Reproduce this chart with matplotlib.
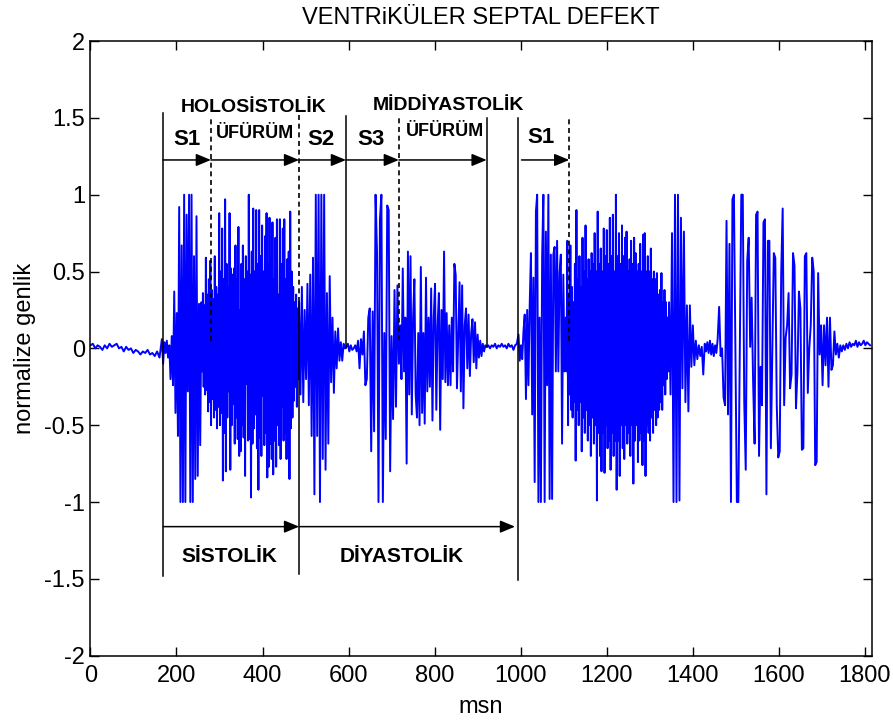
import matplotlib.pyplot as plt
import numpy as np

plt.rcParams['font.family'] = ['Liberation Sans Narrow', 'Liberation Sans', 'DejaVu Sans']

# segment borders (ms); each list below holds the samples
seg_edges = [0, 166, 258, 485, 595, 717, 921, 995, 1105, 1345, 1428, 1458, 1750, 1816]

base0 = [0.02, 0.03, 0.0, 0.02, 0.01, -0.01, 0.02, 0.0, 0.03, 0.01, 0.02, 0.03, 0.0, 0.01,
         -0.02, 0.01, -0.01, 0.0, -0.03, -0.01, -0.02, -0.04, -0.02, -0.03, -0.01, -0.04,
         -0.03, -0.05, -0.02, -0.06]
s1_a = [0.06, -0.1, 0.04, -0.03, 0.05, -0.06, 0.02, -0.2, 0.08, -0.24, 0.37, -0.42, 0.23,
        -0.57, 0.92, -1.0, 0.67, -1.0, 1.0, -1.0, 0.87, -0.28, 1.0, -1.0, 1.0, -1.0, 0.6,
        -0.85, 0.86, -0.83, 0.29, -0.63]
sys_murmur_a = [0.30, -0.15, 0.36, -0.25, 0.28, -0.30, 0.59, -0.27, 0.35, -0.41, 0.45, -0.35,
                0.57, -0.50, 0.38, -0.33, 0.32, -0.45, 0.60, -0.40, 0.40, -0.52, 0.35, -0.38,
                0.88, -0.50, 0.50, -0.42, 0.78, -0.86, 0.45, -0.55, 0.97, -0.80, 0.55, -0.45,
                0.40, -0.28, 0.88, -0.79, 0.52, -0.50, 0.48, -0.36, 0.52, -0.62, 0.67, -0.45,
                0.45, -0.59, 0.79, -0.70, 0.25, -0.67, 0.55, -0.50, 0.67, -0.58, 0.45, -0.83,
                0.60, -0.23, 0.50, -0.60, 1.00, -0.59, 0.48, -0.97, 0.63, -0.62, 0.91, -0.52,
                0.50, -0.43, 0.90, -0.65, 0.55, -0.92, 0.90, -0.58, 0.60, -0.70, 0.80, -0.31,
                0.50, -0.63, 0.73, -0.55, 0.88, -0.84, 0.55, -0.77, 0.85, -0.62, 0.60, -0.72,
                0.82, -0.82, 0.45, -0.60, 0.72, -0.77, 0.84, -0.50, 0.35, -0.63, 0.84, -0.72,
                0.55, -0.38, 0.78, -0.60, 0.84, -0.55, 0.45, -0.72, 0.58, -0.60, 0.63, -0.85,
                0.89, -0.52, 0.50, -0.45, 0.40, -0.34, 0.30, -0.25, 0.35, -0.38, 0.26, -0.20]
s2_a = [0.3, -0.3, 0.4, -0.35, 0.25, -0.2, 0.42, -0.37, 0.48, -0.57, 0.59, -0.95, 1.0, -0.57,
        1.0, -1.0, 1.0, -0.72, 1.0, -0.79, 0.36, -0.62, 0.47, -0.22, 0.2, -0.29, 0.11, -0.13,
        0.13, -0.08, 0.04, -0.08, 0.03, 0.0]
s3_a = [0.01, 0.03, -0.02, 0.02, -0.01, 0.0, 0.02, -0.02, 0.05, -0.13, 0.06, -0.04, 0.11,
        -0.24, -0.2, 0.2, 0.26, -0.67, 0.24, -0.54, 1.0, 0.62, -1.0, 0.84, 1.0, -1.0, 0.1,
        -0.59, 0.93, 0.9, -0.8, 0.08, -0.46, 0.38, -0.38, 0.41]
dia_murmur_a = [-0.1, 0.15, -0.2, 0.52, -0.15, 0.2, -0.75, 0.63, -0.3, 0.6, -0.43, 0.2, 0.45,
                -0.3, -0.45, 0.1, -0.5, 0.53, -0.42, 0.1, -0.49, 0.46, -0.28, 0.2, -0.25, 0.39,
                -0.47, 0.2, 0.42, -0.4, 0.15, 0.36, -0.53, 0.25, -0.2, 0.63, -0.22, 0.23, -0.24,
                0.15, -0.24, 0.2, -0.15, 0.55, 0.48, -0.26, 0.1, 0.43, -0.28, 0.41, -0.39, 0.15,
                0.26, -0.13, 0.22, -0.18, 0.1, 0.19, -0.09, 0.17, -0.13, 0.09, -0.06, 0.05,
                -0.05, 0.03, -0.02, 0.02]
base1 = [0.01, 0.02, 0.0, 0.02, 0.01, 0.03, 0.0, 0.02, 0.01, 0.03, 0.01, 0.02, 0.0, 0.03,
         0.01, 0.02, -0.01, 0.02, 0.03]
s1_b = [0.09, -0.08, 0.02, -0.07, 0.11, 0.22, -0.33, 0.25, -0.24, 0.28, 0.62, -0.43, 0.46,
        -0.87, 0.89, 1.0, -1.0, 0.2, -1.0, 0.6, 1.0, -1.0, 0.76, -0.24, 1.0, -0.98, 0.61,
        -0.98, 0.61, 0.66, -0.15, 0.7, -0.15, 0.49, 0.61, -0.62, 0.48, -0.15]
sys_murmur_b = [0.2, -0.15, 0.7, -0.5, 0.35, -0.3, 0.67, -0.4, 0.4, -0.45, 0.3, -0.35, 0.55,
                -0.73, 0.9, -0.4, 0.45, -0.5, 0.6, -0.35, 0.4, -0.67, 0.72, -0.45, 0.5, -0.55,
                0.8, -0.4, 0.45, -0.6, 0.58, -0.5, 0.5, -0.7, 0.62, -0.45, 0.55, -0.62, 0.75,
                -0.5, 0.5, -0.99, 0.89, -0.55, 0.55, -0.7, 0.65, -0.8, 0.5, -0.55, 0.78, -0.81,
                0.6, -0.5, 0.77, -0.65, 0.55, -0.6, 0.85, -0.79, 0.6, -0.55, 0.87, -0.7, 0.5,
                -0.6, 1.0, -0.92, 0.6, -0.6, 0.75, -0.83, 0.55, -0.5, 0.8, -0.65, 0.6, -0.72,
                0.72, -0.5, 0.76, -0.62, 0.5, -0.55, 0.58, -0.7, 0.7, -0.5, 0.55, -0.88, 0.72,
                -0.6, 0.62, -0.5, 0.5, -0.74, 0.55, -0.6, 0.68, -0.55, 0.5, -0.76, 0.74, -0.6,
                0.75, -0.83, 0.5, -0.5, 0.6, -0.55, 0.5, -0.6, 0.65, -0.45, 0.45, -0.55, 0.5,
                -0.4, 0.45, -0.5, 0.49, -0.45, 0.35, -0.4, 0.38, -0.35, 0.49, -0.4, 0.3, -0.24,
                0.38, -0.3, 0.3, -0.2, 0.2, -0.15]
s2_b = [0.3, -0.3, 0.75, -1.0, 1.0, -1.0, 1.0, -0.99, 0.85, -0.26, 0.76, -0.35, 0.28, -0.41,
        0.28, -0.12, 0.15, -0.11, 0.05, -0.07, 0.02, -0.05, 0.01, -0.17]
base2 = [0.03, -0.02, 0.04, -0.03, 0.05, -0.04, 0.03, -0.05, 0.02, -0.03]
s3_b = [0.06, 0.27, -0.05, 0.0, -0.32, -0.37, 0.83, -0.43, 0.68, -1.0,
        0.97, 1.0, -0.02, -1.0, -1.0, 0.0, 1.0, 1.0, -0.35, -0.79,
        0.57, 0.72, 0.01, 0.33, -0.22, -0.62, 0.87, 0.89, -0.7, -0.12,
        -0.37, 0.82, 0.84, -0.95, 0.7, 0.7, -0.65, -0.02, 0.62, 0.59,
        -0.37, -0.71, -0.67, 0.49, 0.91, -0.37, 0.07, 0.15, 0.36, -0.26,
        -0.17, 0.62, 0.54, -0.39, -0.15, 0.37, 0.26, -0.66, -0.65, 0.6,
        0.62, -0.29, 0.0, 0.15, 0.59, 0.5, -0.76, -0.74, 0.49, -0.04,
        0.15, -0.24, 0.15, -0.11, 0.2, -0.25, 0.2, -0.14, -0.11, 0.11,
        -0.04, 0.03, -0.06, 0.02, -0.02]
base3 = [0.02, -0.01, 0.03, 0.0, 0.04, 0.01, 0.03, 0.02, 0.05, 0.01, 0.04, 0.02, 0.03, 0.05,
         0.02, 0.04, 0.03, 0.02]

segments = [base0, s1_a, sys_murmur_a, s2_a, s3_a, dia_murmur_a, base1,
            s1_b, sys_murmur_b, s2_b, base2, s3_b, base3]

# annotation marks: (ms, y from, y to)
solid_lines = [(169, -1.48, 1.53), (485, -1.47, 0.3), (594, 0.0, 1.51),
               (921, 0.01, 1.50), (993, -1.51, 1.50)]
dashed_lines = [(280, 0.045, 1.50), (485, 0.3, 1.52), (717, 0.055, 1.50), (1113, 0.045, 1.49)]
top_arrows = [(169, 280), (280, 485), (485, 594), (594, 717), (717, 921), (1002, 1113)]
bottom_arrows = [(169, 485), (485, 987)]
top_arrow_y = 1.226
bottom_arrow_y = -1.16
labels = [('HOLOSİSTOLİK', 379, 1.539, 14),
          ('S1', 224, 1.324, 16),
          ('ÜFÜRÜM', 382, 1.369, 13),
          ('S2', 537, 1.324, 16),
          ('S3', 651, 1.324, 16),
          ('MİDDİYASTOLİK', 833, 1.552, 14),
          ('ÜFÜRÜM', 824, 1.383, 13),
          ('S1', 1047, 1.339, 16),
          ('SİSTOLİK', 322, -1.387, 15),
          ('DİYASTOLİK', 724, -1.387, 15)]

x_ticks = [0, 200, 400, 600, 800, 1000, 1200, 1400, 1600, 1800]
y_ticks = [-2, -1.5, -1, -0.5, 0, 0.5, 1, 1.5, 2]
y_tick_labels = ['-2', '-1.5', '-1', '-0.5', '0', '0.5', '1', '1.5', '2']

t = np.concatenate([np.linspace(seg_edges[i], seg_edges[i + 1], len(s), endpoint=False)
                    for i, s in enumerate(segments)])
sig = np.concatenate(segments)

fig = plt.figure(figsize=(8.93, 7.26), dpi=100)
ax = fig.add_axes([0.1013, 0.0968, 0.8748, 0.8467])
ax.plot(t, sig, color='#0000ff', lw=1.4)

for x, y0, y1 in solid_lines:
    ax.plot([x, x], [y0, y1], color='black', lw=1.1)
for x, y0, y1 in dashed_lines:
    ax.plot([x, x], [y0, y1], color='black', lw=1.2, linestyle=(0, (3, 2.2)))

arrow = dict(arrowstyle='-|>,head_length=0.6,head_width=0.25', color='black', lw=1.1,
             mutation_scale=15, shrinkA=0, shrinkB=0)
for x0, x1 in top_arrows:
    ax.annotate('', xy=(x1, top_arrow_y), xytext=(x0, top_arrow_y), arrowprops=arrow)
for x0, x1 in bottom_arrows:
    ax.annotate('', xy=(x1, bottom_arrow_y), xytext=(x0, bottom_arrow_y), arrowprops=arrow)

for txt, x, y, fs in labels:
    ax.text(x, y, txt, ha='center', va='baseline', fontsize=fs, fontweight='bold',
            family=['Liberation Sans', 'DejaVu Sans'])

ax.set_xlim(0, 1816)
ax.set_ylim(-2, 2)
ax.set_xticks(x_ticks)
ax.set_yticks(y_ticks)
ax.set_yticklabels(y_tick_labels)
ax.tick_params(direction='in', length=6.5, width=1, top=True, right=True, labelsize=17)
ax.tick_params(axis='x', pad=7)
ax.tick_params(axis='y', pad=4)
for sp in ax.spines.values():
    sp.set_linewidth(1.1)

ax.set_xlabel('msn', fontsize=17, labelpad=6)
ax.set_ylabel('normalize genlik', fontsize=17, labelpad=6)
ax.set_title('VENTRiKÜLER SEPTAL DEFEKT', fontsize=17, pad=12)

fig.savefig('out.png', dpi=100)
